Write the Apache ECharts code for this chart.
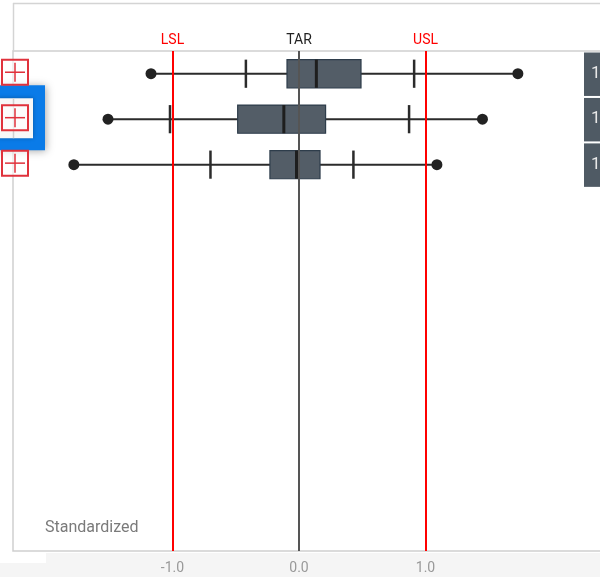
<!DOCTYPE html>
<html>
<head>
<meta charset="utf-8">
<script src="https://cdn.jsdelivr.net/npm/echarts@6/dist/echarts.min.js"></script>
<style>
html,body{margin:0;padding:0;background:#fff;}
#c{width:600px;height:577px;}
</style>
</head>
<body>
<div id="c"></div>
<script>
// ---- data ----
var categories = ['1', '2', '3', '4', '5', '6', '7', '8', '9', '10', '11'];
var minVals   = [-1.17, -1.51, -1.78];
var lowWhisk  = [-0.42, -1.02, -0.70];
var q1Vals    = [-0.095, -0.485, -0.23];
var medVals   = [0.137, -0.12, -0.02];
var q3Vals    = [0.49, 0.21, 0.166];
var highWhisk = [0.91, 0.87, 0.43];
var maxVals   = [1.73, 1.45, 1.09];
var refLines  = [{name: 'LSL', value: -1.0}, {name: 'TAR', value: 0.0}, {name: 'USL', value: 1.0}];
var tickValues = [-1.0, 0.0, 1.0];
var axisTitle = 'Standardized';
var rowTags = ['1', '1', '1'];

var boxData = minVals.map(function (v, i) {
  return [i, minVals[i], lowWhisk[i], q1Vals[i], medVals[i], q3Vals[i], highWhisk[i], maxVals[i]];
});

var FONT = 'Roboto, "Liberation Sans", sans-serif';

function renderBox(params, api) {
  var cat = api.value(0);
  var band = api.size([0, 1])[1];
  var h = band * 0.62;
  var pMin = api.coord([api.value(1), cat]);
  var pLo = api.coord([api.value(2), cat]);
  var pQ1 = api.coord([api.value(3), cat]);
  var pMed = api.coord([api.value(4), cat]);
  var pQ3 = api.coord([api.value(5), cat]);
  var pHi = api.coord([api.value(6), cat]);
  var pMax = api.coord([api.value(7), cat]);
  var y = pMin[1];
  var lineStyle = {stroke: '#2b2b2b', lineWidth: 2};
  return {
    type: 'group',
    children: [
      {type: 'line', shape: {x1: pMin[0], y1: y, x2: pMax[0], y2: y}, style: lineStyle},
      {type: 'line', shape: {x1: pLo[0], y1: y - h / 2, x2: pLo[0], y2: y + h / 2}, style: {stroke: '#2b2b2b', lineWidth: 2.5}},
      {type: 'line', shape: {x1: pHi[0], y1: y - h / 2, x2: pHi[0], y2: y + h / 2}, style: {stroke: '#2b2b2b', lineWidth: 2.5}},
      {type: 'rect', shape: {x: pQ1[0], y: y - h / 2, width: pQ3[0] - pQ1[0], height: h},
        style: {fill: '#535d67', stroke: '#2e3d4b', lineWidth: 1.2}},
      {type: 'line', shape: {x1: pMed[0], y1: y - h / 2, x2: pMed[0], y2: y + h / 2}, style: {stroke: '#1e1e1e', lineWidth: 3}},
      {type: 'circle', shape: {cx: pMin[0], cy: y, r: 5.5}, style: {fill: '#222'}},
      {type: 'circle', shape: {cx: pMax[0], cy: y, r: 5.5}, style: {fill: '#222'}}
    ]
  };
}

var chart = echarts.init(document.getElementById('c'), null, {renderer: 'canvas'});

var tarLine = refLines.filter(function (r) { return r.name === 'TAR'; });
var specLines = refLines.filter(function (r) { return r.name !== 'TAR'; });

function mkLine(list, color, labelColor) {
  return list.map(function (r) {
    return {
      xAxis: r.value, name: r.name,
      lineStyle: {color: color, width: 2, type: 'solid'},
      label: {show: true, position: 'start', formatter: r.name, color: labelColor,
        fontFamily: FONT, fontSize: 14, distance: 4}
    };
  });
}

var option = {
  animation: false,
  backgroundColor: '#fff',
  grid: {left: 13, top: 51, width: 600, bottom: 26, show: true, borderColor: '#cfcfcf', borderWidth: 1.5,
    backgroundColor: 'transparent', outerBoundsMode: 'none', containLabel: false},
  xAxis: {
    type: 'value', min: -2.261, max: 2.482,
    axisLine: {show: false}, axisTick: {show: false}, splitLine: {show: false},
    axisLabel: {
      customValues: tickValues, color: '#999', fontFamily: FONT, fontSize: 14, margin: 10,
      formatter: function (v) { return v.toFixed(1); }
    }
  },
  yAxis: {
    type: 'category', data: categories, inverse: true,
    axisLine: {show: false}, axisTick: {show: false}, axisLabel: {show: false}, splitLine: {show: false}
  },
  series: [
    {
      type: 'line', data: [], z: 1,
      markLine: {symbol: 'none', silent: true, animation: false, data: mkLine(tarLine, '#555', '#222')}
    },
    {
      type: 'custom', z: 3, data: boxData, renderItem: renderBox,
      encode: {x: [1, 2, 3, 4, 5, 6, 7], y: 0}
    },
    {
      type: 'line', data: [], z: 4,
      markLine: {symbol: 'none', silent: true, animation: false, data: mkLine(specLines, '#ff0000', '#ff0000')}
    }
  ]
};

chart.setOption(option);

var g = [];
// bottom light strip
g.push({type: 'rect', z: -10, shape: {x: 46, y: 553, width: 560, height: 30}, style: {fill: '#f5f5f5'}});
g.push({type: 'rect', z: -10, shape: {x: 0, y: 563, width: 46, height: 20}, style: {fill: '#f5f5f5'}});
// outer frame
g.push({type: 'line', z: 5, shape: {x1: 13, y1: 3.5, x2: 600, y2: 3.5}, style: {stroke: '#d4d4d4', lineWidth: 1.5}});
g.push({type: 'line', z: 5, shape: {x1: 13.5, y1: 3, x2: 13.5, y2: 51}, style: {stroke: '#d4d4d4', lineWidth: 1.5}});
// axis title
g.push({type: 'text', z: 20, left: 45, top: 520, style: {text: axisTitle, fill: '#7a7a7a', font: '16px ' + FONT}});

[0, 1, 2].forEach(function (i) {
  var c = chart.convertToPixel({gridIndex: 0}, [0, i]);
  var cy = c[1];
  var band = 500 / categories.length;
  g.push({type: 'rect', z: 50, shape: {x: 584, y: cy - band / 2 + 1.5, width: 20, height: band - 2},
    style: {fill: '#4f5a64'}});
  g.push({type: 'text', z: 51, x: 591, y: cy, style: {text: rowTags[i], fill: '#e8e8e8', font: '17px ' + FONT, textVerticalAlign: 'middle'}});
  if (i === 1) {
    g.push({type: 'rect', z: 60, shape: {x: -2, y: cy - 34, width: 47, height: 65},
      style: {fill: '#0a7be8', shadowBlur: 8, shadowColor: 'rgba(0,0,0,0.35)', shadowOffsetX: 1, shadowOffsetY: 1}});
    g.push({type: 'rect', z: 61, shape: {x: -2, y: cy - 21, width: 35, height: 40},
      style: {fill: '#f7f7f7', shadowBlur: 4, shadowColor: 'rgba(0,0,0,0.3)'}});
    g.push({type: 'line', z: 62, shape: {x1: 13.5, y1: cy - 21, x2: 13.5, y2: cy + 19}, style: {stroke: '#cfcfcf', lineWidth: 1.5}});
  }
  var top = cy - 14;
  g.push({type: 'rect', z: 70, shape: {x: 2, y: top, width: 26, height: 25},
    style: {fill: 'rgba(255,255,255,0.6)', stroke: '#e0323c', lineWidth: 2}});
  g.push({type: 'line', z: 71, shape: {x1: 5, y1: top + 12.5, x2: 25, y2: top + 12.5}, style: {stroke: '#e0323c', lineWidth: 1.5}});
  g.push({type: 'line', z: 71, shape: {x1: 15, y1: top + 3, x2: 15, y2: top + 22}, style: {stroke: '#e0323c', lineWidth: 1.5}});
});

chart.setOption({graphic: g});
</script>
</body>
</html>
